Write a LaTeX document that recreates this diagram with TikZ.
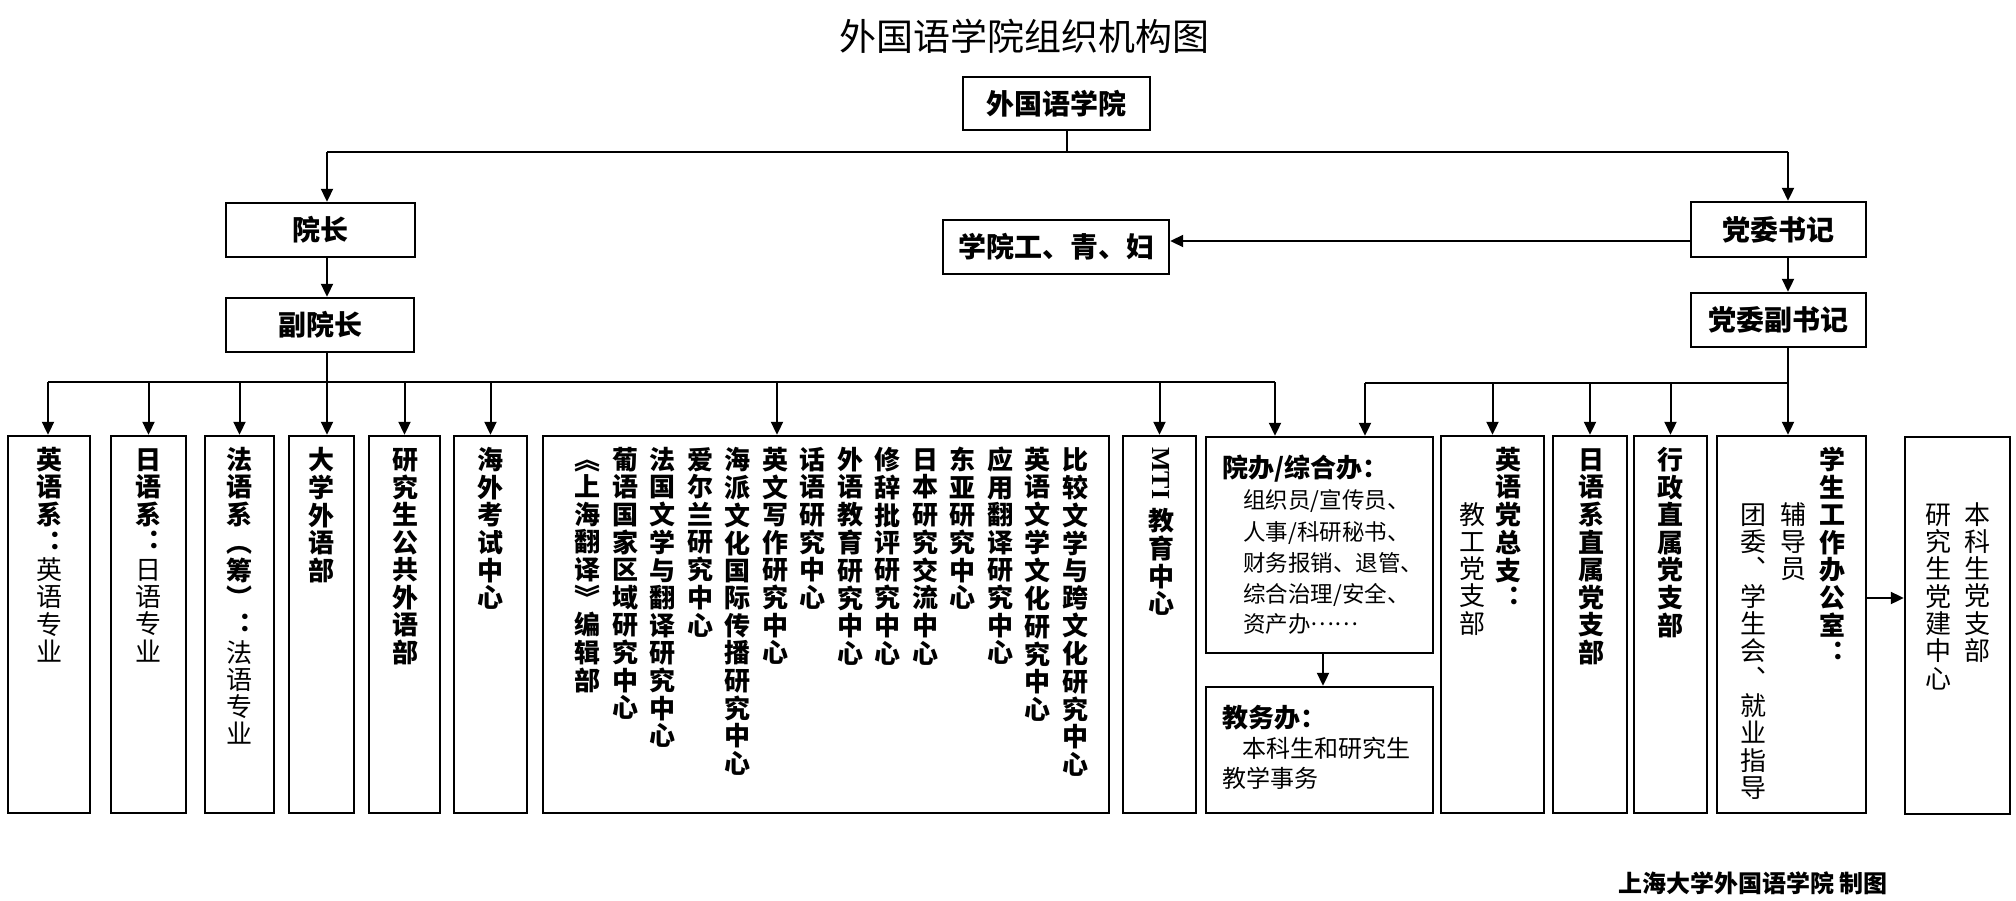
\documentclass[tikz,border=0pt]{standalone}
\usepackage{fontspec}
\usepackage{graphicx}
\setmainfont{Noto Sans CJK SC}
\newfontfamily\mtifont{Liberation Serif}
\usetikzlibrary{arrows.meta}
\newlength\vpitch
\setlength\vpitch{27.3pt}
\def\vcend{\vcend}
\def\vcaux#1{\ifx#1\vcend\else\hbox to 1em{\vrule width0pt height .8\vpitch depth .2\vpitch\hss#1\hss}\expandafter\vcaux\fi}
\newcommand\vchars[1]{\vcaux#1\vcend}
\newcommand\vcol[1]{\vbox{\offinterlineskip#1}}
\tikzset{
  box/.style={draw, line width=2.4pt, inner sep=0pt},
  topbox/.style={box, font=\bfseries\fontsize{28}{30}\selectfont},
  conn/.style={line width=2pt},
  arr/.style={conn, -{Triangle[width=12pt,length=13pt]}},
  vtext/.style={anchor=north, inner sep=0pt, font=\fontsize{26}{27.3}\selectfont},
  htext/.style={anchor=base west, inner sep=0pt, font=\fontsize{22.5}{31}\selectfont},
  hhead/.style={anchor=base west, inner sep=0pt, font=\bfseries\fontsize{26}{31}\selectfont},
}
\begin{document}
\begin{tikzpicture}[x=1pt,y=-1pt]
\fill[white] (0,0) rectangle (2016,900);
\useasboundingbox (0,0) rectangle (2016,900);

% title and footer
\node[font=\fontsize{37}{40}\selectfont, inner sep=0pt] (title) at (1024.5,36) {外国语学院组织机构图};
\node[anchor=west, inner sep=0pt, font=\bfseries\fontsize{24}{26}\selectfont] (foot) at (1618,883) {上海大学外国语学院 制图};

% upper boxes
\node[topbox, minimum width=187pt, minimum height=53pt] (top) at (1056.5,103.5) {外国语学院};
\node[topbox, minimum width=189pt, minimum height=54pt] (yz) at (320.5,230) {院长};
\node[topbox, minimum width=188pt, minimum height=54pt] (fyz) at (320,325) {副院长};
\node[topbox, minimum width=226pt, minimum height=54pt] (gqf) at (1056,247) {学院工、青、妇};
\node[topbox, minimum width=175pt, minimum height=55pt] (sj) at (1778.5,229.5) {党委书记};
\node[topbox, minimum width=175pt, minimum height=54pt] (fsj) at (1778.5,320) {党委副书记};

% lower boxes
\node[box, minimum width=82pt, minimum height=377pt] (b1) at (49,624.5) {};
\node[box, minimum width=75pt, minimum height=377pt] (b2) at (148.5,624.5) {};
\node[box, minimum width=69pt, minimum height=377pt] (b3) at (239.5,624.5) {};
\node[box, minimum width=65pt, minimum height=377pt] (b4) at (321.5,624.5) {};
\node[box, minimum width=71pt, minimum height=377pt] (b5) at (404.5,624.5) {};
\node[box, minimum width=73pt, minimum height=377pt] (b6) at (490.5,624.5) {};
\node[box, minimum width=566pt, minimum height=377pt] (b7) at (826,624.5) {};
\node[box, minimum width=73pt, minimum height=377pt] (b8) at (1159.5,624.5) {};
\node[box, minimum width=227pt, minimum height=216pt] (yb) at (1319.5,545) {};
\node[box, minimum width=227pt, minimum height=126pt] (jwb) at (1319.5,750) {};
\node[box, minimum width=103pt, minimum height=377pt] (b11) at (1492.5,624.5) {};
\node[box, minimum width=74pt, minimum height=377pt] (b12) at (1590,624.5) {};
\node[box, minimum width=73pt, minimum height=377pt] (b13) at (1670.5,624.5) {};
\node[box, minimum width=149pt, minimum height=377pt] (b14) at (1791.5,624.5) {};
\node[box, minimum width=105pt, minimum height=377pt] (b15) at (1957.5,625.5) {};

% vertical texts
\node[vtext] (t1) at (49,447) {\vcol{\bfseries\vchars{英语系︓}\mdseries\vchars{英语专业}}};
\node[vtext] (t2) at (148.5,447) {\vcol{\bfseries\vchars{日语系︓}\mdseries\vchars{日语专业}}};
\node[vtext] (t3) at (239.5,447) {\vcol{\bfseries\vchars{法语系︵筹︶︓}\mdseries\vchars{法语专业}}};
\node[vtext] (t4) at (321.5,447) {\vcol{\bfseries\vchars{大学外语部}}};
\node[vtext] (t5) at (405.5,447) {\vcol{\bfseries\vchars{研究生公共外语部}}};
\node[vtext] (t6) at (490.5,447) {\vcol{\bfseries\vchars{海外考试中心}}};

\node[vtext] (c1) at (1075,447) {\vcol{\bfseries\vchars{比较文学与跨文化研究中心}}};
\node[vtext] (c2) at (1037.5,447) {\vcol{\bfseries\vchars{英语文学文化研究中心}}};
\node[vtext] (c3) at (1000,447) {\vcol{\bfseries\vchars{应用翻译研究中心}}};
\node[vtext] (c4) at (962.5,447) {\vcol{\bfseries\vchars{东亚研究中心}}};
\node[vtext] (c5) at (925,447) {\vcol{\bfseries\vchars{日本研究交流中心}}};
\node[vtext] (c6) at (887.5,447) {\vcol{\bfseries\vchars{修辞批评研究中心}}};
\node[vtext] (c7) at (850,447) {\vcol{\bfseries\vchars{外语教育研究中心}}};
\node[vtext] (c8) at (812.5,447) {\vcol{\bfseries\vchars{话语研究中心}}};
\node[vtext] (c9) at (775,447) {\vcol{\bfseries\vchars{英文写作研究中心}}};
\node[vtext] (c10) at (737.5,447) {\vcol{\bfseries\vchars{海派文化国际传播研究中心}}};
\node[vtext] (c11) at (700,447) {\vcol{\bfseries\vchars{爱尔兰研究中心}}};
\node[vtext] (c12) at (662.5,447) {\vcol{\bfseries\vchars{法国文学与翻译研究中心}}};
\node[vtext] (c13) at (625,447) {\vcol{\bfseries\vchars{葡语国家区域研究中心}}};
\node[vtext] (c14) at (587.5,447) {\vcol{\bfseries\vchars{︽上海翻译︾编辑部}}};

\node[vtext] (t8) at (1161,447) {\vcol{\bfseries\hbox to 1em{\hss\rotatebox{-90}{\mtifont\bfseries MTI}\hss}\kern9pt\vchars{教育中心}}};

\node[vtext] (t11a) at (1508,447) {\vcol{\bfseries\vchars{英语党总支︓}}};
\node[vtext] (t11b) at (1472,502) {\vcol{\vchars{教工党支部}}};
\node[vtext] (t12) at (1591,447) {\vcol{\bfseries\vchars{日语系直属党支部}}};
\node[vtext] (t13) at (1670.5,447) {\vcol{\bfseries\vchars{行政直属党支部}}};
\node[vtext] (t14a) at (1832,447) {\vcol{\bfseries\vchars{学生工作办公室︓}}};
\node[vtext] (t14b) at (1793,502) {\vcol{\vchars{辅导员}}};
\node[vtext] (t14c) at (1753,502) {\vcol{\vchars{团委︑学生会︑就业指导}}};
\node[vtext] (t15a) at (1977,502) {\vcol{\vchars{本科生党支部}}};
\node[vtext] (t15b) at (1938,502) {\vcol{\vchars{研究生党建中心}}};

% horizontal texts in office boxes
\node[hhead] (y0) at (1222,477) {院办/综合办：};
\node[htext] (y1) at (1243,508) {组织员/宣传员、};
\node[htext] (y2) at (1243,540) {人事/科研秘书、};
\node[htext] (y3) at (1243,571) {财务报销、退管、};
\node[htext] (y4) at (1243,602) {综合治理/安全、};
\node[htext] (y5) at (1243,632) {资产办\raisebox{0.3em}{……}};
\node[hhead] (j0) at (1222,727) {教务办：};
\node[htext, font=\fontsize{24}{31}\selectfont] (j1) at (1242,757) {本科生和研究生};
\node[htext, font=\fontsize{24}{31}\selectfont] (j2) at (1222,787) {教学事务};

% connectors
\coordinate (tj) at (1067,152);
\coordinate (tl) at (327,152);
\coordinate (tr) at (1788,152);
\draw[conn] (top.south -| tj) -- (tj);
\draw[conn] (tl) -- (tr);
\draw[arr] (tl) -- (tl |- yz.north);
\draw[arr] (tr) -- (tr |- sj.north);
\draw[arr] (yz.south -| tl) -- (fyz.north -| tl);
\draw[arr] (sj.south -| tr) -- (fsj.north -| tr);
\coordinate (gy) at (0,241);
\draw[arr] (sj.west |- gy) -- (gqf.east |- gy);

\coordinate (la) at (48,382);
\coordinate (lb) at (1275,382);
\coordinate (lm) at (777,382);
\coordinate (lj) at (327,382);
\draw[conn] (la) -- (lb);
\draw[arr] (fyz.south -| lj) -- (b4.north -| lj);
\draw[arr] (la) -- (la |- b1.north);
\draw[arr] (b2.north |- la) -- (b2.north);
\draw[arr] (b3.north |- la) -- (b3.north);
\draw[arr] (b5.north |- la) -- (b5.north);
\draw[arr] (b6.north |- la) -- (b6.north);
\draw[arr] (lm) -- (lm |- b7.north);
\draw[arr] (b8.north |- la) -- (b8.north);
\draw[arr] (lb) -- (lb |- yb.north);

\coordinate (ra) at (1365,383);
\coordinate (rj) at (1788,383);
\draw[conn] (ra) -- (rj);
\draw[arr] (fsj.south -| rj) -- (b14.north -| rj);
\draw[arr] (ra) -- (ra |- yb.north);
\draw[arr] (b11.north |- ra) -- (b11.north);
\draw[arr] (b12.north |- ra) -- (b12.north);
\draw[arr] (b13.north |- ra) -- (b13.north);

\coordinate (yj) at (1323,670);
\draw[arr] (yb.south -| yj) -- (jwb.north -| yj);
\coordinate (sy) at (1880,598);
\draw[arr] (b14.east |- sy) -- (b15.west |- sy);
\end{tikzpicture}
\end{document}
